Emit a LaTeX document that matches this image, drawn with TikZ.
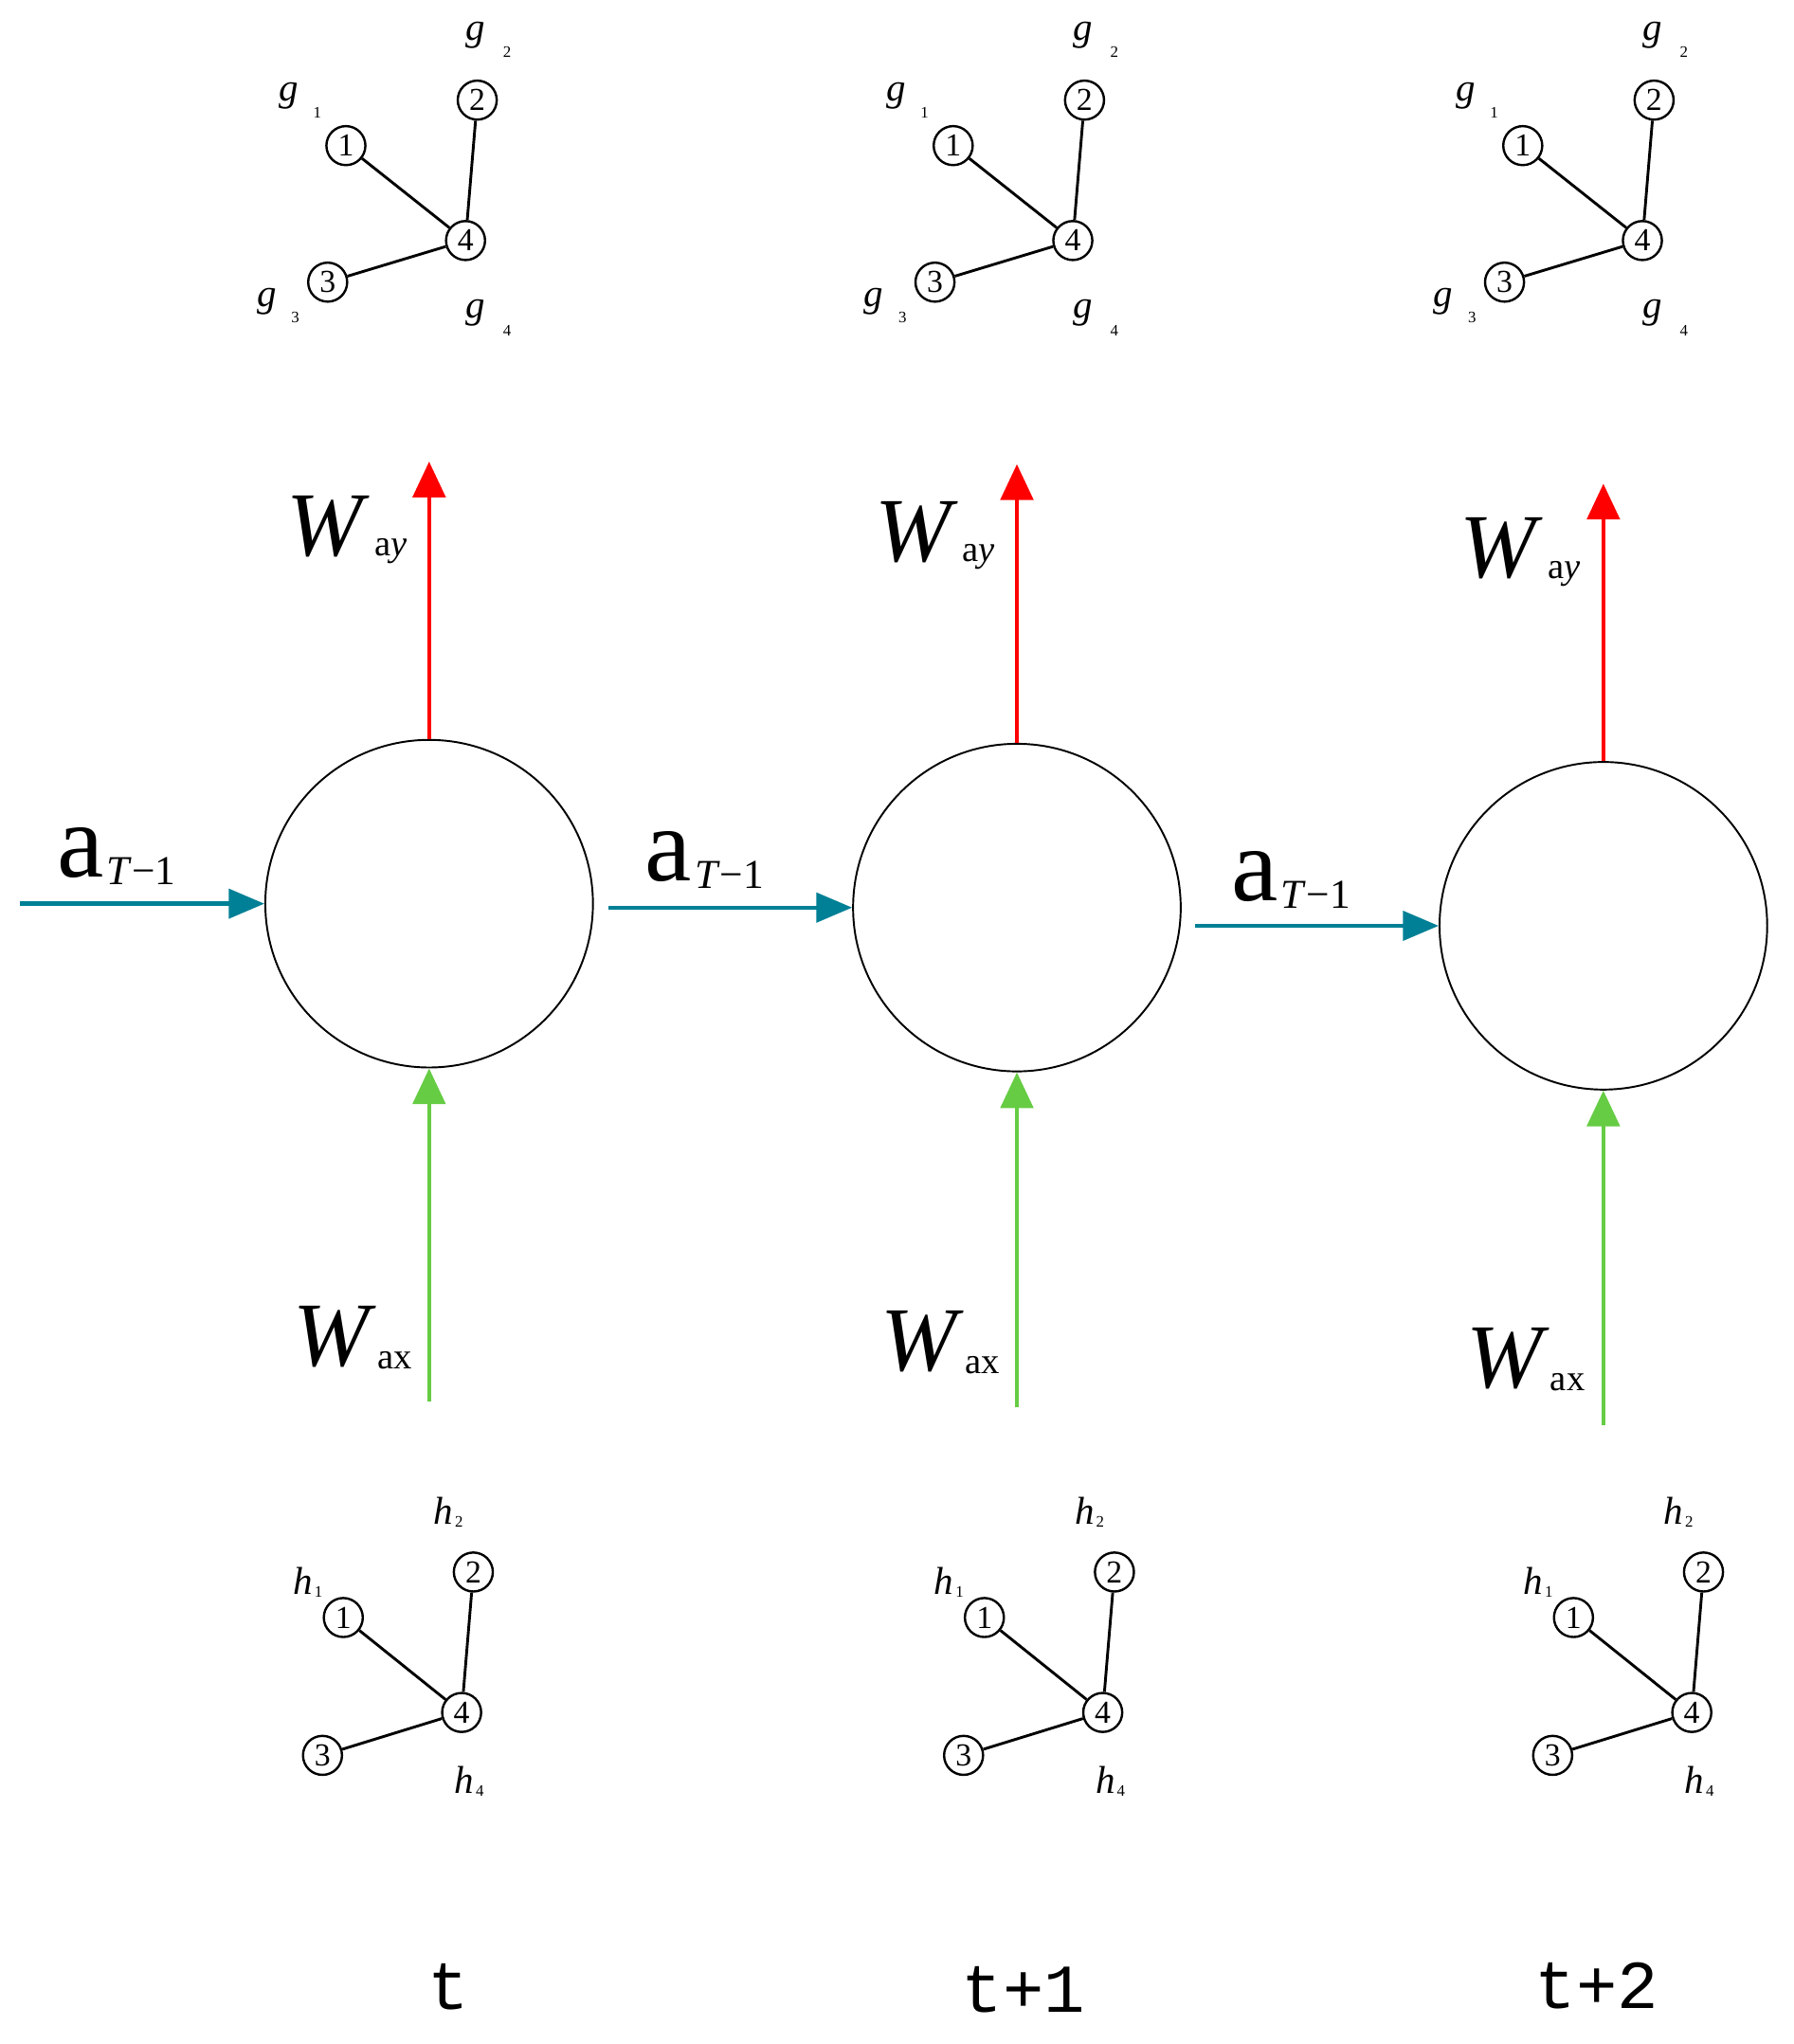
\documentclass[tikz,border=0pt]{standalone}
\usepackage{fontspec}
\setmainfont{Liberation Serif}
\newfontfamily\monob{Liberation Mono}
\usetikzlibrary{arrows.meta}
\definecolor{teal2}{RGB}{0,128,150}
\definecolor{grn}{RGB}{102,204,68}
\begin{document}
\begin{tikzpicture}[x=0.02cm,y=-0.02cm,
  big/.style={circle,draw,line width=0.8pt,minimum size=5.04cm,inner sep=0},
  sm/.style={circle,draw,line width=1pt,minimum size=0.6cm,inner sep=0,font=\fontsize{14}{14}\selectfont},
  e/.style={line width=1.2pt},
  red/.style={draw=red,line width=1.8pt,-{Triangle[length=0.55cm,width=0.5cm]}},
  gr/.style={draw=grn,line width=1.8pt,-{Triangle[length=0.55cm,width=0.5cm]}},
  tl/.style={draw=teal2,line width=1.8pt,-{Triangle[length=0.55cm,width=0.45cm]}},
  W/.style={font=\fontsize{40}{40}\selectfont\itshape},
  sub/.style={font=\fontsize{16}{16}\selectfont},
  gl/.style={font=\fontsize{17}{17}\selectfont\itshape},
  tiny/.style={font=\fontsize{7}{7}\selectfont},
  A/.style={font=\fontsize{46}{46}\selectfont},
  Asub/.style={font=\fontsize{18}{18}\selectfont},
  tt/.style={font=\fontsize{30}{30}\selectfont\monob}]
\useasboundingbox (0,0) rectangle (1379,1572);
% big circles
\node[big] (c1) at (330,695) {};
\node[big] (c2) at (782,698) {};
\node[big] (c3) at (1233,712) {};
% red
\coordinate (r1) at (330,355); \coordinate (r2) at (782,357); \coordinate (r3) at (1233,372);
\draw[red] (c1.north) -- (r1);
\draw[red] (c2.north) -- (r2);
\draw[red] (c3.north) -- (r3);
% green
\coordinate (b1) at (330,1078); \coordinate (b2) at (782,1082); \coordinate (b3) at (1233,1096);
\draw[gr] (b1) -- (c1.south);
\draw[gr] (b2) -- (c2.south);
\draw[gr] (b3) -- (c3.south);
% teal
\coordinate (s0) at (15,695);
\coordinate (s1) at (468,698);
\coordinate (s2) at (919,712);
\draw[tl] (s0) -- (c1.west);
\draw[tl] (s1) -- (c2.west);
\draw[tl] (s2) -- (c3.west);
% labels
\foreach \x/\y [count=\i] in {0/0,452/4,902/17}{
  \node[W] (wy\i) at (250+\x,405+\y) {W};
  \node[sub,anchor=west] (wys\i) at (282+\x,424+\y) {a\textit{y}};
  \node[W] (wx\i) at (255+\x,1028+\y) {W};
  \node[sub,anchor=west] (wxs\i) at (284+\x,1046+\y) {ax};
}
\foreach \x/\y [count=\i] in {0/0,452/3,903/18}{
  \node[A] (a\i) at (62+\x,656+\y) {a};
  \node[Asub,anchor=west] (as\i) at (76+\x,670+\y) {\textit{T}−1};
}
% top graphs
\foreach \dx [count=\i] in {0,467,905}{
  \node[sm] (t1\i) at (266+\dx,112) {1};
  \node[sm] (t2\i) at (367+\dx,77) {2};
  \node[sm] (t4\i) at (358+\dx,185) {4};
  \node[sm] (t3\i) at (252+\dx,217) {3};
  \draw[e] (t1\i) -- (t4\i); \draw[e] (t2\i) -- (t4\i); \draw[e] (t3\i) -- (t4\i);
  \node[gl] (g1\i) at (222+\dx,74) {g}; \node[tiny] at (244+\dx,87) {1};
  \node[gl] (g2\i) at (366+\dx,27) {g}; \node[tiny] at (390+\dx,40) {2};
  \node[gl] (g3\i) at (205+\dx,232) {g}; \node[tiny] at (227+\dx,244) {3};
  \node[gl] (g4\i) at (366+\dx,241) {g}; \node[tiny] at (390+\dx,254) {4};
}
% bottom graphs
\foreach \dx [count=\i] in {0,493,946}{
  \node[sm] (h1\i) at (264+\dx,1244) {1};
  \node[sm] (h2\i) at (364+\dx,1209) {2};
  \node[sm] (h4\i) at (355+\dx,1317) {4};
  \node[sm] (h3\i) at (248+\dx,1350) {3};
  \draw[e] (h1\i) -- (h4\i); \draw[e] (h2\i) -- (h4\i); \draw[e] (h3\i) -- (h4\i);
  \node[gl] (hl1\i) at (233+\dx,1216) {h}; \node[tiny] at (245+\dx,1224) {1};
  \node[gl] (hl2\i) at (341+\dx,1162) {h}; \node[tiny] at (353+\dx,1170) {2};
  \node[gl] (hl4\i) at (357+\dx,1369) {h}; \node[tiny] at (369+\dx,1377) {4};
}
\node[tt] (T1) at (345,1528) {t};
\node[tt] (T2) at (787,1530) {t+1};
\node[tt] (T3) at (1228,1527) {t+2};
\end{tikzpicture}
\end{document}
